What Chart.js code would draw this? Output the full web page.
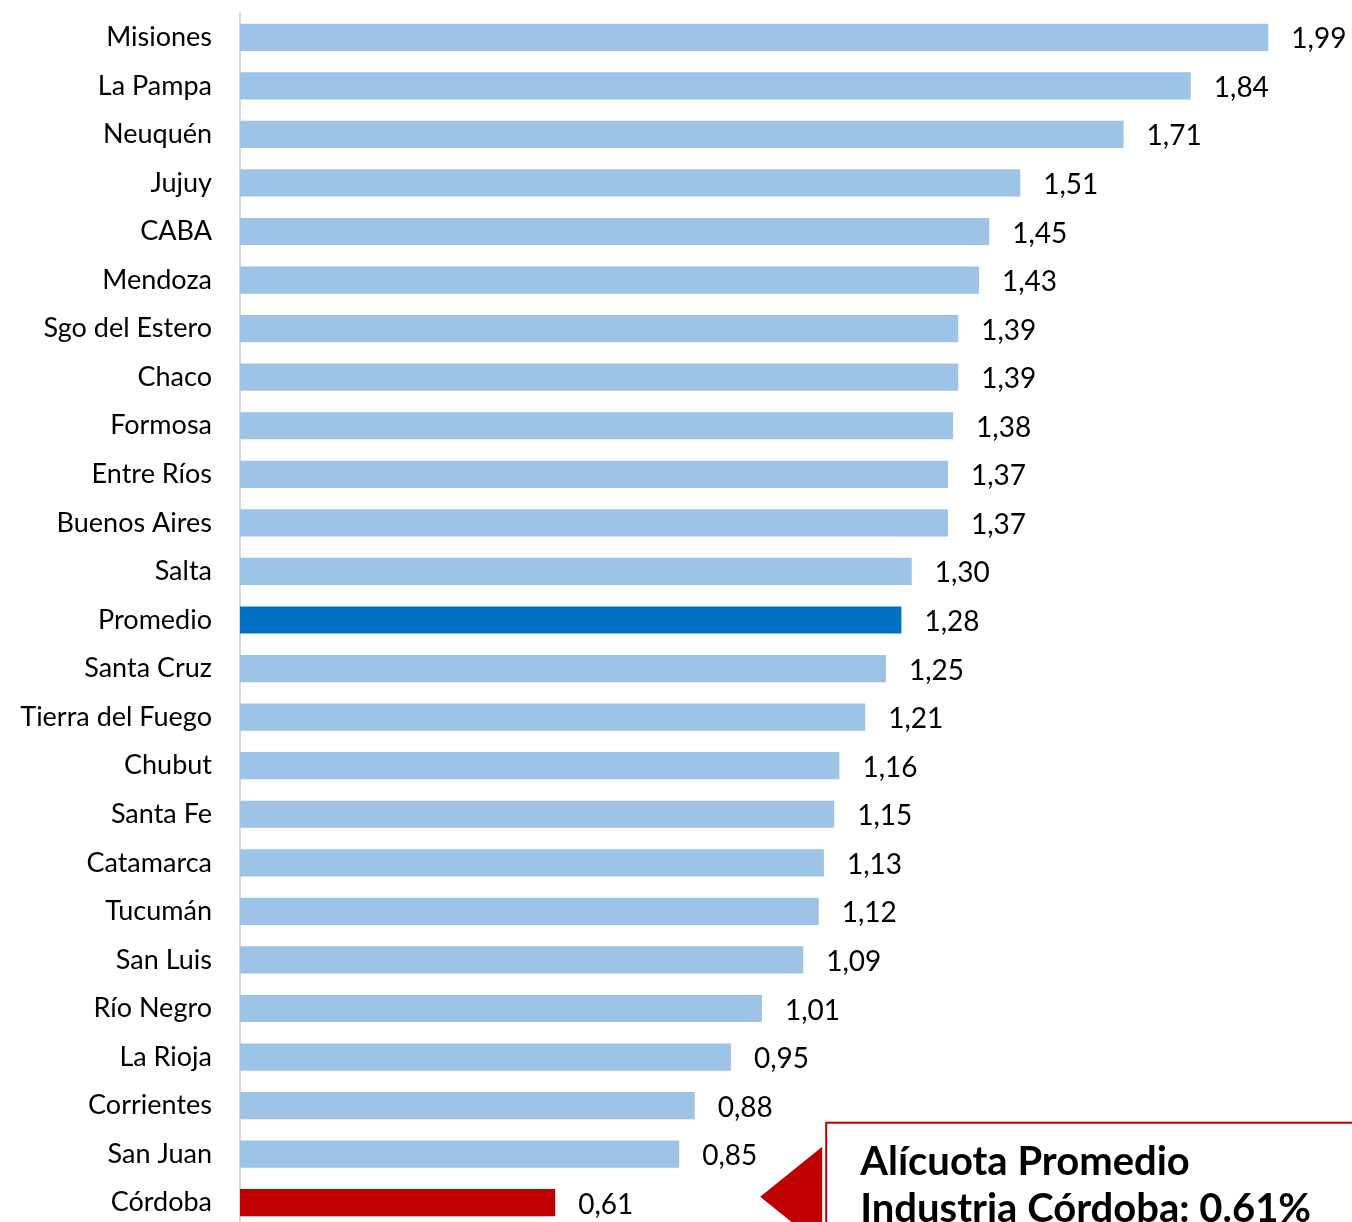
<!DOCTYPE html>
<html>
<head>
<meta charset="utf-8">
<script src="https://cdn.jsdelivr.net/npm/chart.js@4.4.1/dist/chart.umd.min.js"></script>
<style>
  html, body { margin: 0; padding: 0; overflow: hidden; background: #ffffff; }
  #wrap { position: relative; width: 1352px; height: 1228px; }
</style>
</head>
<body>
<div id="wrap"><canvas id="c"></canvas></div>
<script>
const categories = ["Misiones","La Pampa","Neuquén","Jujuy","CABA","Mendoza","Sgo del Estero","Chaco","Formosa","Entre Ríos","Buenos Aires","Salta","Promedio","Santa Cruz","Tierra del Fuego","Chubut","Santa Fe","Catamarca","Tucumán","San Luis","Río Negro","La Rioja","Corrientes","San Juan","Córdoba"];
const values = [1.99,1.84,1.71,1.51,1.45,1.43,1.39,1.39,1.38,1.37,1.37,1.30,1.28,1.25,1.21,1.16,1.15,1.13,1.12,1.09,1.01,0.95,0.88,0.85,0.61];
const highlightAverage = "Promedio";
const highlightCordoba = "Córdoba";
const annotationLines = ["Alícuota Promedio", "Industria Córdoba: 0.61%"];

const FONT = "Lato, 'Open Sans', sans-serif";
const colors = categories.map(c => c === highlightAverage ? "#0070C0" : (c === highlightCordoba ? "#C00000" : "#9DC3E6"));

const valueLabels = {
  id: "valueLabels",
  afterDatasetsDraw(chart) {
    const ctx = chart.ctx;
    const meta = chart.getDatasetMeta(0);
    ctx.save();
    ctx.font = "28px " + FONT;
    ctx.fillStyle = "#000";
    ctx.textAlign = "left";
    ctx.textBaseline = "middle";
    meta.data.forEach((bar, i) => {
      ctx.fillText(values[i].toFixed(2).replace(".", ","), bar.x + 23, bar.y + 2);
    });
    ctx.restore();
  }
};

const callout = {
  id: "callout",
  afterDraw(chart) {
    const ctx = chart.ctx;
    const meta = chart.getDatasetMeta(0);
    const idx = categories.indexOf(highlightCordoba);
    const bar = meta.data[idx];
    const tipX = bar.x + 205, tipY = bar.y - 6;
    ctx.save();
    ctx.fillStyle = "#C00000";
    ctx.beginPath();
    ctx.moveTo(tipX, tipY);
    ctx.lineTo(tipX + 62, tipY - 50);
    ctx.lineTo(tipX + 62, tipY + 50);
    ctx.closePath();
    ctx.fill();
    const bx = tipX + 66, by = tipY - 74;
    ctx.fillStyle = "#fff";
    ctx.fillRect(bx, by, 700, 300);
    ctx.strokeStyle = "#C00000";
    ctx.lineWidth = 2;
    ctx.strokeRect(bx, by, 700, 300);
    ctx.fillStyle = "#000";
    ctx.font = "bold 40px " + FONT;
    ctx.textAlign = "left";
    ctx.textBaseline = "alphabetic";
    ctx.fillText(annotationLines[0], bx + 34, by + 52);
    ctx.fillText(annotationLines[1], bx + 34, by + 99);
    ctx.restore();
  }
};

new Chart(document.getElementById("c"), {
  type: "bar",
  data: {
    labels: categories,
    datasets: [{
      data: values,
      backgroundColor: colors,
      borderWidth: 0,
      categoryPercentage: 1,
      barPercentage: 0.56
    }]
  },
  options: {
    indexAxis: "y",
    responsive: true,
    maintainAspectRatio: false,
    animation: false,
    layout: { padding: { top: 13, right: 0, bottom: 1, left: 0 } },
    plugins: { legend: { display: false }, tooltip: { enabled: false } },
    scales: {
      x: { display: false, min: 0, max: 2.152 },
      y: {
        grid: { display: false, drawTicks: false },
        border: { display: true, color: "#D9D9D9", width: 2 },
        ticks: { color: "#000", font: { family: FONT, size: 27 }, padding: 28 },
        afterFit(scale) { scale.width = 240; scale.paddingTop = 0; scale.paddingBottom = 0; }
      }
    }
  },
  plugins: [valueLabels, callout]
});
</script>
</body>
</html>
